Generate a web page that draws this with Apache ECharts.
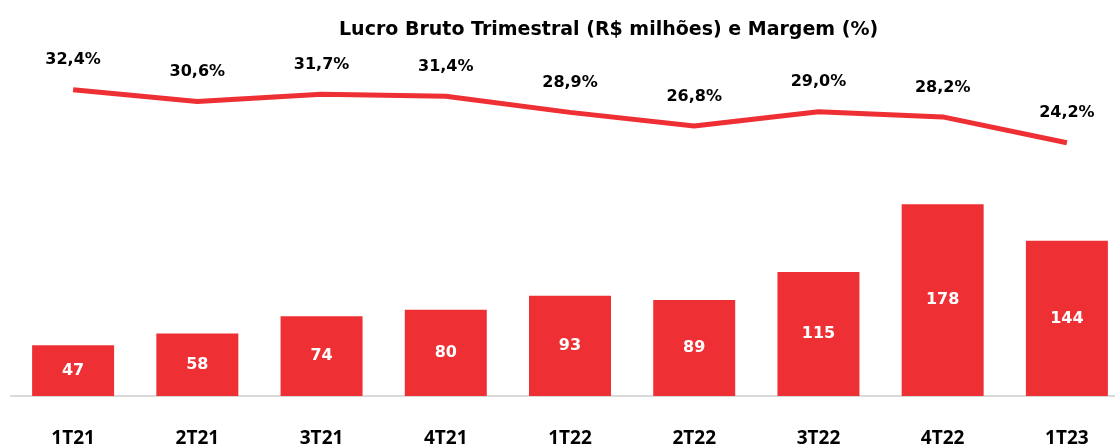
<!DOCTYPE html>
<html lang="pt">
<head>
    <meta charset="UTF-8">
    <title>Lucro Bruto Trimestral</title>
    <script src="https://cdn.jsdelivr.net/npm/echarts@6/dist/echarts.min.js"></script>
    <style>
        html, body { margin: 0; padding: 0; background: #fff; }
        #chart { width: 1115px; height: 447px; }
    </style>
</head>
<body>
<div id="chart"></div>
<script type="text/javascript">
    // dados
    var trimestres = ['1T21', '2T21', '3T21', '4T21', '1T22', '2T22', '3T22', '4T22', '1T23'];
    var lucroBruto = [47, 58, 74, 80, 93, 89, 115, 178, 144];
    var margem = [32.4, 30.6, 31.7, 31.4, 28.9, 26.8, 29.0, 28.2, 24.2];

    var fonte = '"DejaVu Sans", sans-serif';
    var fonteEixo = '"Open Sans", "Noto Sans", sans-serif';
    var vermelho = '#ee2f33';

    var myChart = echarts.init(document.getElementById('chart'));

    var option = {
        animation: false,
        title: {
            text: 'Lucro Bruto Trimestral (R$ milhões) e Margem (%)',
            left: 334,
            top: 16,
            textStyle: { fontFamily: fonte, fontWeight: 'bold', fontSize: 19, color: '#000' }
        },
        grid: { top: 20, bottom: 51, left: 11, width: 1118, outerBoundsMode: 'none' },
        xAxis: {
            type: 'category',
            data: trimestres,
            axisLine: { lineStyle: { color: '#d9d9d9', width: 2 } },
            axisTick: { show: false },
            axisLabel: {
                margin: 33,
                fontFamily: fonteEixo,
                fontWeight: 'bold',
                fontSize: 19,
                color: '#000'
            }
        },
        yAxis: [
            { type: 'value', min: 0, max: 349, show: false, splitLine: { show: false } },
            { type: 'value', min: -15, max: 43.2, show: false, splitLine: { show: false } }
        ],
        series: [
            {
                type: 'bar',
                data: lucroBruto,
                barCategoryGap: '34%',
                itemStyle: { color: vermelho },
                label: {
                    show: true,
                    position: 'inside',
                    color: '#fff',
                    fontFamily: fonte,
                    fontWeight: 'bold',
                    fontSize: 16
                }
            },
            {
                type: 'line',
                yAxisIndex: 1,
                data: margem,
                symbol: 'circle',
                symbolSize: 1,
                itemStyle: { color: 'transparent' },
                lineStyle: { color: vermelho, width: 5 },
                label: {
                    show: true,
                    position: 'top',
                    distance: 21,
                    color: '#000',
                    fontFamily: fonte,
                    fontWeight: 'bold',
                    fontSize: 16,
                    formatter: function (p) {
                        return p.value.toFixed(1).replace('.', ',') + '%';
                    }
                }
            }
        ]
    };
    myChart.setOption(option);
</script>
</body>
</html>
